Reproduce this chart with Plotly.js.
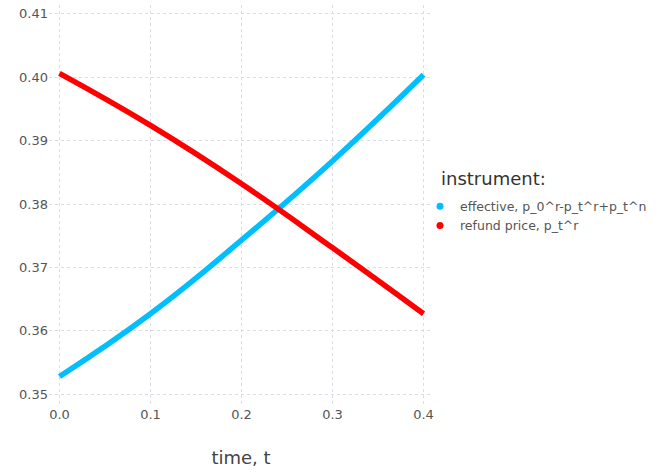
<!DOCTYPE html>
<html>
<head>
<meta charset="utf-8">
<script src="https://cdn.plot.ly/plotly-3.0.1.min.js"></script>
<style>html,body{margin:0;padding:0;background:#fff;}#chart{width:660px;height:472px;}</style>
</head>
<body>
<div id="chart"></div>
<script>
const timeT = [0.0, 0.1, 0.2, 0.3, 0.4];
const effective = [0.3528, 0.3627, 0.3743, 0.3868, 0.4004];
const refund = [0.4006, 0.3924, 0.3832, 0.3731, 0.3627];
const seriesNames = ["effective, p_0^r-p_t^r+p_t^n", "refund price, p_t^r"];
const seriesColors = ["#00BFFF", "#FF0000"];
const legendTitle = "instrument:";
const xTicks = [0.0, 0.1, 0.2, 0.3, 0.4];
const xTickText = ["0.0", "0.1", "0.2", "0.3", "0.4"];
const yTicks = [0.35, 0.36, 0.37, 0.38, 0.39, 0.40, 0.41];
const yTickText = ["0.35", "0.36", "0.37", "0.38", "0.39", "0.40", "0.41"];

const font = "DejaVu Sans, Verdana, sans-serif";
const ys = [effective, refund];
const traces = [];
ys.forEach((y, i) => {
  traces.push({x: timeT, y: y, mode: "lines", line: {color: seriesColors[i], width: 5.5, shape: "spline", smoothing: 1.3},
    showlegend: false, hoverinfo: "x+y"});
});
ys.forEach((y, i) => {
  traces.push({x: [null], y: [null], mode: "markers", name: seriesNames[i],
    marker: {color: seriesColors[i], size: 7}, showlegend: true});
});

const L = 49, R = 227, T = 5, B = 67, W = 660, H = 472;
const layout = {
  width: W, height: H,
  margin: {l: L, r: R, t: T, b: B, autoexpand: false},
  paper_bgcolor: "#fff", plot_bgcolor: "#fff",
  font: {family: font, color: "#555"},
  xaxis: {range: [-0.0115, 0.4104], tickvals: xTicks, ticktext: xTickText,
    showgrid: true, gridcolor: "#dcdce8", griddash: "3px,3px", zeroline: false, showline: false,
    tickfont: {size: 13, color: "#555"}, ticks: "", ticklen: 0, automargin: false,
    title: {text: "time, t", font: {size: 18, color: "#444"}, standoff: 30}},
  yaxis: {range: [0.3483, 0.4114], tickvals: yTicks, ticktext: yTickText,
    showgrid: true, gridcolor: "#dcdce8", griddash: "3px,3px", zeroline: false, showline: false,
    tickfont: {size: 13, color: "#555"}, ticks: "", automargin: false},
  legend: {xref: "container", yref: "container", x: 420 / W, xanchor: "left", y: 1 - 216 / H, yanchor: "middle",
    font: {size: 12.5, color: "#555"}, bgcolor: "rgba(0,0,0,0)", tracegroupgap: 0},
  annotations: [{text: legendTitle, xref: "paper", yref: "paper",
    x: (439 - L) / (W - L - R), y: (H - B - 178) / (H - T - B),
    xanchor: "left", yanchor: "middle", showarrow: false, font: {size: 18, color: "#333"}}]
};
Plotly.newPlot("chart", traces, layout, {displayModeBar: false, staticPlot: true});
</script>
</body>
</html>
